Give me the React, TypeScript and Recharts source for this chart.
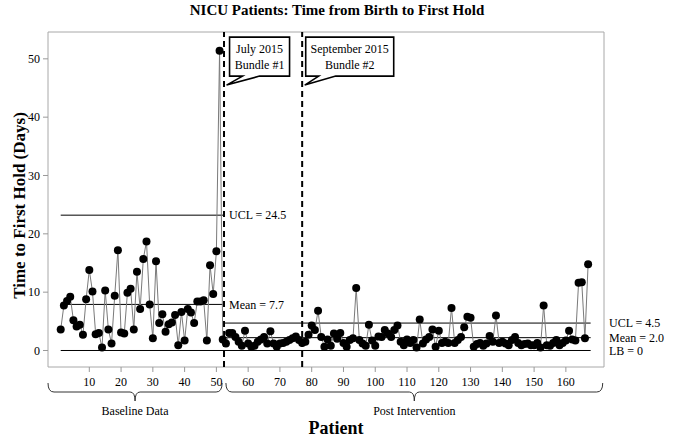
import React from 'react';
import {
  ComposedChart,
  Line,
  XAxis,
  YAxis,
  ReferenceLine,
  ReferenceArea,
  ReferenceDot,
  Label,
} from 'recharts';

// ---------- data ----------
const baselineDays = [
  3.6, 7.7, 8.5, 9.2, 5.2, 4.1, 4.4, 2.7, 8.8, 13.8,
  10.1, 2.8, 3.0, 0.5, 10.3, 3.6, 1.2, 9.4, 17.2, 3.1,
  2.9, 9.9, 10.6, 3.6, 13.5, 7.1, 15.7, 18.7, 7.9, 2.1,
  15.3, 4.7, 6.2, 3.2, 4.5, 4.8, 6.1, 0.9, 6.6, 1.7,
  7.1, 6.5, 4.7, 8.4, 8.4, 8.6, 1.7, 14.6, 9.7, 17.0,
  51.4,
];

const postDays = [
  1.9, 1.2, 3.0, 3.0, 2.3, 1.5, 0.8, 3.4, 1.2, 0.65,
  0.8, 1.5, 1.9, 2.3, 1.2, 3.3, 1.2, 0.65, 1.2, 1.3,
  1.5, 1.8, 2.1, 2.4, 1.8, 1.3, 1.5, 2.7, 4.3, 3.5,
  6.8, 2.3, 0.65, 1.9, 0.8, 2.9, 2.0, 3.0, 1.3, 0.65,
  1.8, 2.1, 10.7, 1.8, 1.2, 0.8, 4.4, 1.7, 0.8, 2.4,
  2.3, 3.5, 2.9, 2.3, 3.5, 4.3,
  1.5, 0.9, 1.9, 1.3, 1.8, 0.5, 5.3, 1.2, 1.9, 2.3,
  3.6, 0.65, 3.4, 1.3, 1.5, 1.3, 7.3, 1.3, 1.8, 2.3,
  4.0, 5.8, 5.6, 0.65, 1.1, 1.3, 0.8, 1.2, 2.5, 1.5,
  6.0, 1.3, 1.5, 1.2, 0.9, 1.8, 2.3, 1.3, 0.9, 1.1,
  1.2, 0.9, 0.9, 1.3, 0.5, 7.7, 0.9, 0.8, 1.3, 1.8,
  0.9, 1.3, 1.7, 3.4, 1.9, 1.7, 11.6, 11.7, 2.1, 14.8,
];

const allDays = [...baselineDays, ...postDays];
const patientIds = allDays.map((_, i) => i + 1);
const chartData = patientIds.map((p, i) => ({ patient: p, days: allDays[i] }));

const xTicks = [10, 20, 30, 40, 50, 60, 70, 80, 90, 100, 110, 120, 130, 140, 150, 160];
const yTicks = [0, 10, 20, 30, 40, 50];
const xDomain = [-3, 172];
const yDomain = [-2.83, 54.6];

// control limits
const limitNames = ['UCL = 24.5', 'Mean = 7.7', 'UCL = 4.5', 'Mean = 2.0', 'LB = 0'];
const limitValues = [23.2, 7.9, 4.7, 2.2, 0];
const limitStart = [1, 1, 52.4, 52.4, 1];
const limitEnd = [52.4, 52.4, 167.8, 167.8, 167.8];
const limitLabelAt = [52.4, 52.4, 172, 172, 172];

// phase changes
const phaseLines = [52.4, 77];
const phaseNotes = [
  ['July 2015', 'Bundle #1'],
  ['September 2015', 'Bundle #2'],
];
const noteTipX = [53.2, 77.8];
const noteTipY = [45.5, 45.5];
const noteBoxWidth = [60, 88];
const noteBoxLeft = [3, 1];

// groups under the axis
const groupNames = ['Baseline Data', 'Post Intervention'];
const groupStart = [-3, 53];
const groupEnd = [51.8, 171.6];

const FONT = 'Liberation Serif, Times New Roman, serif';

const renderNote = (i: number) => (props: any) => {
  const { cx, cy } = props;
  const l = cx + noteBoxLeft[i];
  const r = l + noteBoxWidth[i];
  const top = cy - 48;
  const bottom = cy - 9;
  const d = `M${l},${top} H${r} V${bottom} H${l + 30} L${cx},${cy} L${l + 13},${bottom} H${l} Z`;
  const mid = (l + r) / 2;
  return (
    <g>
      <path d={d} fill="#fff" stroke="#000" strokeWidth={1.6} />
      <text x={mid} y={top + 16} textAnchor="middle" fontSize={12} fontFamily={FONT} fill="#000">
        {phaseNotes[i][0]}
      </text>
      <text x={mid} y={top + 32} textAnchor="middle" fontSize={12} fontFamily={FONT} fill="#000">
        {phaseNotes[i][1]}
      </text>
    </g>
  );
};

const renderLimitLabel = (i: number) => (props: any) => {
  const { cx, cy } = props;
  return (
    <text x={cx + 5} y={cy} dy="0.35em" fontSize={12} fontFamily={FONT} fill="#000">
      {limitNames[i]}
    </text>
  );
};

const renderBrace = (i: number) => (props: any) => {
  const { x, y, width, height } = props;
  const base = y + height;
  const x1 = x;
  const x2 = x + width;
  const cxm = (x1 + x2) / 2;
  const top = base + 16;
  const mid = base + 25;
  const tip = base + 34;
  const d = `M${x1},${top} Q${x1},${mid} ${x1 + 6},${mid} H${cxm - 5} Q${cxm},${mid} ${cxm},${tip} Q${cxm},${mid} ${cxm + 5},${mid} H${x2 - 6} Q${x2},${mid} ${x2},${top}`;
  return (
    <g>
      <path d={d} fill="none" stroke="#333" strokeWidth={1} />
      <text x={cxm} y={base + 48} textAnchor="middle" fontSize={12} fontFamily={FONT} fill="#000">
        {groupNames[i]}
      </text>
    </g>
  );
};

const XLabel = (props: any) => {
  const { viewBox } = props;
  return (
    <text
      x={viewBox.x + viewBox.width / 2 + 10}
      y={viewBox.y + viewBox.height + 37}
      textAnchor="middle"
      fontSize={18}
      fontWeight="bold"
      fontFamily={FONT}
      fill="#000"
    >
      Patient
    </text>
  );
};

const YLabel = (props: any) => {
  const { viewBox } = props;
  const x = viewBox.x + 19;
  const y = viewBox.y + viewBox.height / 2 + 6;
  return (
    <text
      x={x}
      y={y}
      transform={`rotate(-90, ${x}, ${y})`}
      textAnchor="middle"
      dominantBaseline="central"
      fontSize={17}
      fontWeight="bold"
      fontFamily={FONT}
      fill="#000"
    >
      Time to First Hold (Days)
    </text>
  );
};

export default function App() {
  return (
    <div style={{ position: 'absolute', left: 0, top: 0, width: 674, height: 439, background: '#fff' }}>
      <div
        style={{
          position: 'absolute',
          left: 0,
          top: 1,
          width: 674,
          textAlign: 'center',
          fontFamily: FONT,
          fontWeight: 'bold',
          fontSize: 15,
          lineHeight: '18px',
          color: '#000',
        }}
      >
        NICU Patients: Time from Birth to First Hold
      </div>
      <ComposedChart
        width={674}
        height={439}
        data={chartData}
        margin={{ top: 32, right: 70, bottom: 42, left: 0 }}
        style={{ fontFamily: FONT }}
      >
        <XAxis
          dataKey="patient"
          type="number"
          domain={xDomain}
          ticks={xTicks}
          allowDataOverflow
          height={30}
          axisLine={false}
          tickLine={{ stroke: '#999' }}
          tickSize={5}
          tickMargin={5}
          tick={{ fill: '#000', fontSize: 12, fontFamily: FONT }}
          interval={0}
        >
          <Label content={<XLabel />} />
        </XAxis>
        <YAxis
          type="number"
          domain={yDomain}
          ticks={yTicks}
          allowDataOverflow
          width={48}
          axisLine={false}
          tickLine={{ stroke: '#999' }}
          tickSize={5}
          tickMargin={3}
          tick={{ fill: '#000', fontSize: 12, fontFamily: FONT }}
          interval={0}
        >
          <Label content={<YLabel />} />
        </YAxis>

        <ReferenceArea
          x1={xDomain[0]}
          x2={xDomain[1]}
          y1={yDomain[0]}
          y2={yDomain[1]}
          fill="none"
          fillOpacity={0}
          stroke="#a8a8a8"
          strokeWidth={1}
          ifOverflow="visible"
        />

        {limitValues.map((v, i) => (
          <ReferenceLine
            key={`lim-${i}`}
            segment={[
              { x: limitStart[i], y: v },
              { x: limitEnd[i], y: v },
            ]}
            stroke="#000"
            strokeWidth={1}
            ifOverflow="visible"
          />
        ))}

        {phaseLines.map((x, i) => (
          <ReferenceLine
            key={`ph-${i}`}
            x={x}
            stroke="#000"
            strokeWidth={2}
            strokeDasharray="6 4"
            ifOverflow="visible"
          />
        ))}

        <Line
          dataKey="days"
          type="linear"
          stroke="#7a7a7a"
          strokeWidth={1}
          dot={{ r: 4, fill: '#000', stroke: '#000', strokeWidth: 0 }}
          activeDot={false}
          isAnimationActive={false}
        />

        {limitValues.map((v, i) => (
          <ReferenceDot
            key={`ll-${i}`}
            x={limitLabelAt[i]}
            y={v}
            r={0}
            ifOverflow="visible"
            shape={renderLimitLabel(i)}
          />
        ))}

        {phaseNotes.map((_, i) => (
          <ReferenceDot
            key={`note-${i}`}
            x={noteTipX[i]}
            y={noteTipY[i]}
            r={0}
            ifOverflow="visible"
            shape={renderNote(i)}
          />
        ))}

        {groupNames.map((_, i) => (
          <ReferenceArea
            key={`grp-${i}`}
            x1={groupStart[i]}
            x2={groupEnd[i]}
            y1={yDomain[0]}
            y2={-2}
            ifOverflow="visible"
            shape={renderBrace(i)}
          />
        ))}
      </ComposedChart>
    </div>
  );
}
